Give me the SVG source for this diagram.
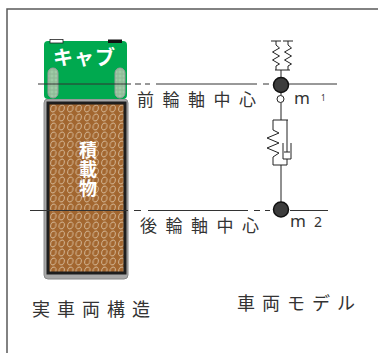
<svg xmlns="http://www.w3.org/2000/svg" width="378" height="353" viewBox="0 0 378 353">
  <style>
    .frame { stroke: #5a5a5a; stroke-width: 1.5; fill: none; }
    .axle { stroke: #333; stroke-width: 1; fill: none; }
    .wire { stroke: #222; stroke-width: 1; fill: none; }
    .mass { fill: #3c3c3c; stroke: #111; stroke-width: 1.5; }
    .lbl { font-family: "Noto Sans CJK JP", "Noto Sans", sans-serif; fill: #333; }
    .axl { font-size: 17px; letter-spacing: 8.5px; }
    .cap { font-size: 18px; letter-spacing: 7px; }
    .sym { font-family: "Noto Sans", "DejaVu Sans", sans-serif; fill: #333; }
    .wt { font-family: "Noto Sans CJK JP", sans-serif; fill: #fff; font-weight: bold; }
  </style>
  <defs>
    <pattern id="cargoTex" width="8.5" height="9" patternUnits="userSpaceOnUse" x="49" y="104">
      <rect width="8.5" height="9" fill="#a2662f"/>
      <ellipse cx="4.25" cy="4.5" rx="2.6" ry="3.6" transform="rotate(20 4.25 4.5)" fill="none" stroke="#dcc4a6" stroke-width="0.8"/>
    </pattern>
    <pattern id="tyreTex" width="4" height="4" patternUnits="userSpaceOnUse">
      <rect width="4" height="4" fill="#9fcba6"/>
      <circle cx="2" cy="2" r="1.2" fill="none" stroke="#7fa888" stroke-width="0.6"/>
    </pattern>
  </defs>

  <!-- outer frame: top and left edges -->
  <path class="frame" d="M7,353 V9 H378"/>

  <!-- truck body -->
  <g id="cargo">
    <rect x="44" y="99" width="84" height="180" rx="4" fill="#a8a8a8" stroke="#8a8a8a" stroke-width="1"/>
    <rect x="48" y="103" width="77" height="170" fill="url(#cargoTex)" stroke="#1e1e1e" stroke-width="3"/>
    <text class="wt" x="88" y="141" font-size="18" writing-mode="vertical-rl" letter-spacing="1">積載物</text>
  </g>

  <g id="cab">
    <rect x="44" y="41" width="83" height="58" rx="4" fill="#00a94f"/>
    <rect x="50" y="39.5" width="13" height="3.5" fill="#fff" stroke="#222" stroke-width="0.8"/>
    <rect x="108" y="39.5" width="14" height="3.5" fill="#111"/>
    <rect x="48" y="68" width="10" height="30" rx="5" fill="url(#tyreTex)" stroke="#9a9a9a" stroke-width="1"/>
    <rect x="115" y="68" width="10" height="30" rx="5" fill="url(#tyreTex)" stroke="#9a9a9a" stroke-width="1"/>
    <text class="wt" x="53" y="65" font-size="20" letter-spacing="1">キャブ</text>
  </g>

  <!-- wheel-axis reference lines -->
  <g id="connectors">
    <path class="axle" d="M38,84 H131 M135,84 H141 M145,84 H150 M156,84 H257 M263,84 H269 M289,84 H337"/>
    <path class="axle" d="M30,210.5 H128 M134,210.5 H141 M148,210.5 H248 M254,210.5 H260 M265,210.5 H270 M290,210.5 H328"/>

    <!-- cab suspension springs -->
    <path class="wire" d="M271,41 H281 M276,41 V45 L279.5,48 L272.5,52 L279.5,56 L272.5,60 L279.5,64 L276,66 V70"/>
    <path class="wire" d="M283,41 H293 M288,41 V45 L291.5,48 L284.5,52 L291.5,56 L284.5,60 L291.5,64 L288,66 V70"/>
    <path class="wire" d="M275,70 H290 M281,70 V77"/>

    <!-- frame link: m1 joint to spring-damper to m2 -->
    <path class="wire" d="M281,93 V95.5 M281,102.5 V120"/>
    <path class="wire" d="M273,120 H288 M273,120 V130 L279,133 L267,138 L279,143 L267,148 L279,153 L273,157 V165 M287,120 V152 M284,152 H290 M283,143 V159 H291 V143 M287,159 V165 M273,165 H287"/>
    <path class="wire" d="M281,165 V202"/>
  </g>

  <g id="node-m1">
    <circle class="mass" cx="281" cy="85" r="7.5"/>
    <circle cx="280.5" cy="99" r="3.5" fill="#fff" stroke="#222" stroke-width="1"/>
    <text class="sym" x="294" y="104" font-size="17">m</text>
    <text class="sym" x="321" y="101" font-size="8">1</text>
  </g>

  <g id="node-m2">
    <circle class="mass" cx="281" cy="209.5" r="7.5"/>
    <text class="sym" x="290" y="227" font-size="17">m</text>
    <text class="sym" x="314" y="227" font-size="14">2</text>
  </g>

  <g id="labels">
    <text class="lbl axl" x="137" y="106">前輪軸中心</text>
    <text class="lbl axl" x="140" y="232">後輪軸中心</text>
    <text class="lbl cap" x="32" y="316">実車両構造</text>
    <text class="lbl cap" x="237" y="310">車両モデル</text>
  </g>
</svg>
